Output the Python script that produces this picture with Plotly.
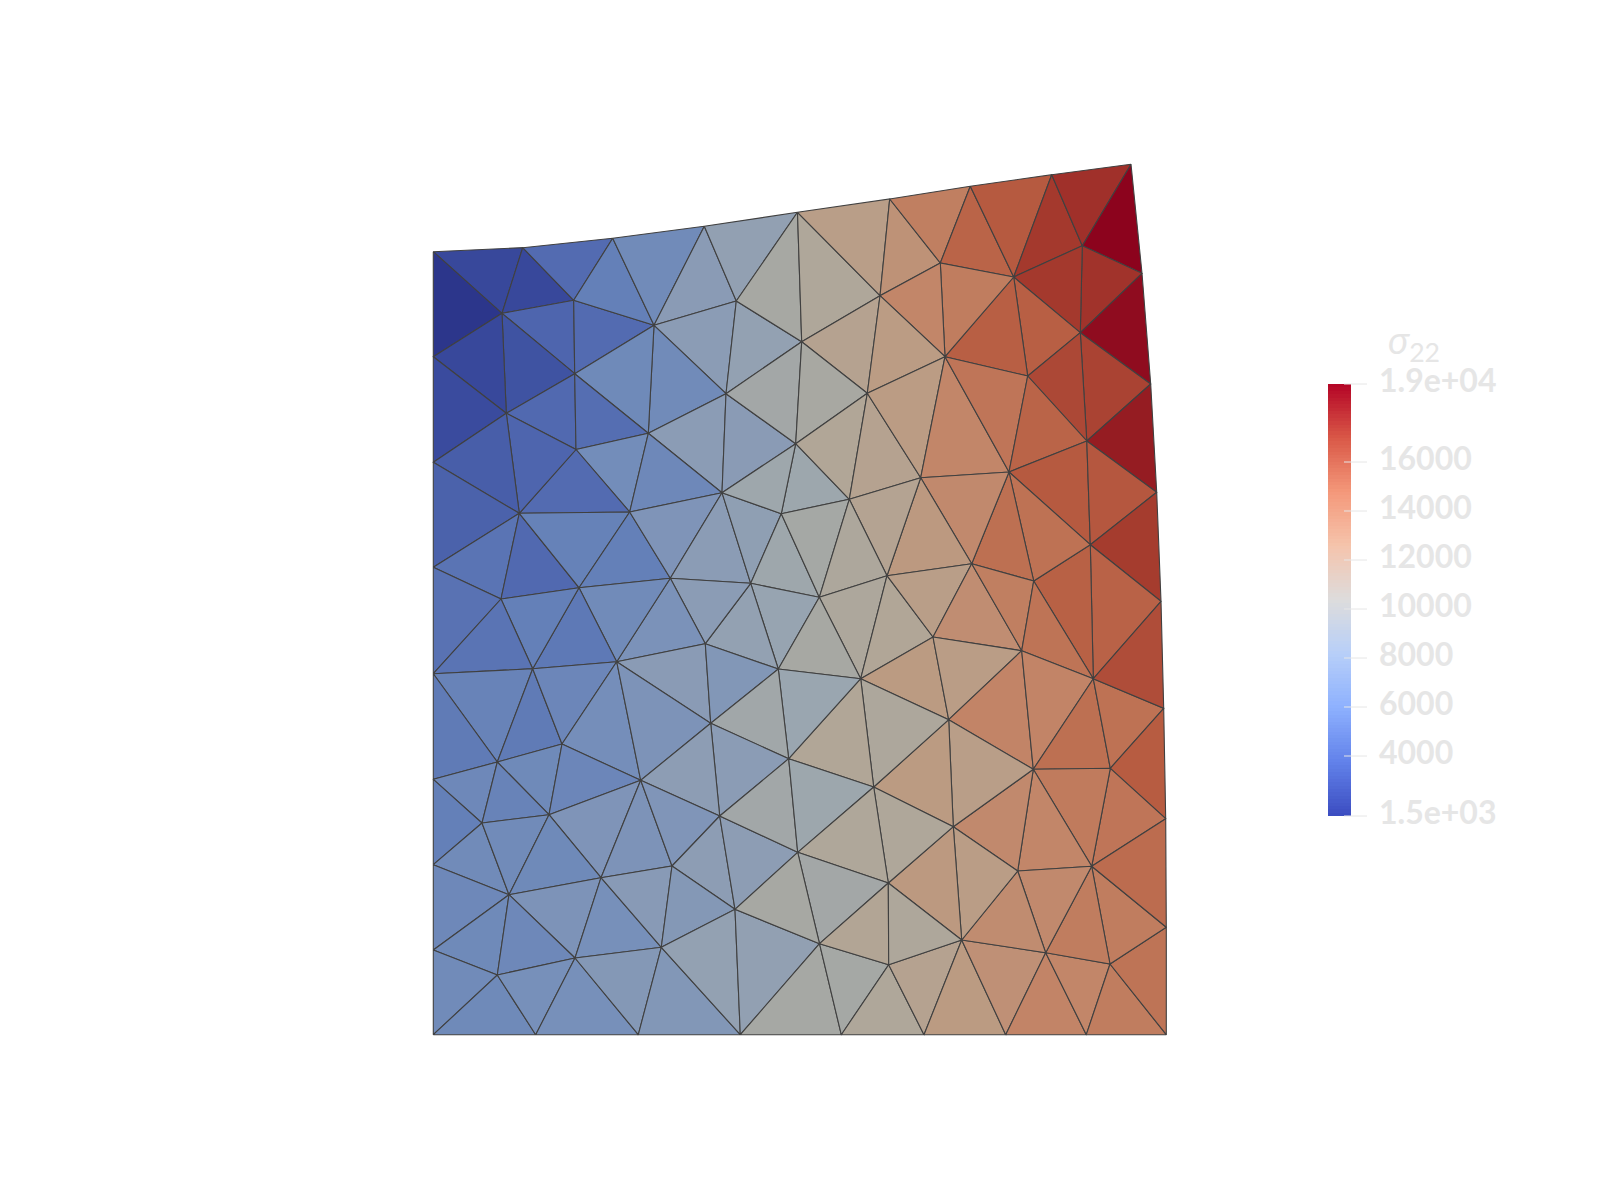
import numpy as np
import plotly.graph_objects as go
from plotly.colors import sample_colorscale

# mesh nodes (horizontal / vertical position on the page grid)
node_names = """T0 T1 T2 T3 T4 T5 T6 T7 T8 R1 R2 R3 R4 R5 R6 R7 R8
B1 B2 B3 B4 B5 B6 B7 L1 L2 L3 L4 L5 L6 L7 L8
a b c d e f g h i j k l m n o p q r s t u v w x y z
aa ab ac ad ae af ag ah ai aj ak al am an ao ap aq ar as at au av aw ax ay az
ba bb bc bd be bf bg bh bi bj bk bl bm bn bo bp bq br bs bt bu""".split()
node_x = [433.3, 522.7, 612.7, 704.3, 797.5, 889.7, 970.3, 1051.7, 1131, 1142, 1150.7, 1156.7, 1161, 1163.7, 1165.7, 1166.3, 1166.3,
          535.7, 638.3, 740.3, 841.3, 924, 1005.7, 1086.3, 433.3, 433.3, 433.3, 433.3, 433.3, 433.3, 433.3, 433.3,
          502, 573.7, 654, 736.3, 801.7, 880, 940.3, 1013.7, 1082.3, 506.3, 574.7, 726, 648.3, 576, 795.7, 867.3, 945, 1027.7, 1080.3, 1086.8, 519.3, 629.7, 722, 781.3, 849.3, 920.7,
          1009, 1090.3, 1033.7, 971.7, 887, 819.3, 750.7, 670.3, 579, 501, 532.7, 616.7, 705.3, 778.3, 860.7, 933, 1021.7, 1093.3, 948.7, 710.7, 562, 497.3, 640.7, 788.7, 873.7, 1033.3,
          1110.3, 549, 482, 719.7, 797.7, 953.3, 672, 601, 509, 735, 888.3, 1017.7, 1091.7, 819.5, 661.3, 575, 497.3, 888.7, 961.7, 1045.7, 1110]
node_y = [251.7, 247.7, 238.3, 226.3, 212.3, 199, 186.3, 174.7, 164.3, 273.3, 384, 492.3, 601.3, 708.3, 818.7, 927.3, 1034.7,
          1034.7, 1034.7, 1034.7, 1034.7, 1034.7, 1034.7, 1034.7, 356.7, 462.3, 567.3, 673.7, 779.3, 864.7, 950, 1034.7,
          313.3, 300.3, 325.3, 301, 341.7, 295.7, 263, 277, 245.7, 413.3, 373.7, 393.7, 433.3, 449.5, 443.7, 393.3, 356.7, 376, 332.7, 441, 513.3, 512, 492.7, 513.7, 499.3, 477.7,
          472, 544.7, 581, 563.7, 575.7, 597.3, 583.3, 578.3, 587.7, 599, 668.7, 661.7, 643.7, 669, 678.7, 637, 650.7, 678.7, 719.7, 723.3, 744, 762, 780.3, 758.7, 787, 769.3,
          768.3, 814.7, 823, 816, 852.3, 826.7, 866, 877.7, 894.7, 909.3, 883, 871, 866.3, 943.7, 947.3, 958, 975, 964.7, 940, 952.7, 964]

# triangles and the sigma_22 value estimated for each one
tri_sigma_pairs = """
T0 T1 a 2700;T0 a L1 1600;T1 b a 2700;T1 T2 b 4600;a b k 4300;b c k 4600;b T2 c 5500;T2 T3 c 6200;T3 d c 7500;T3 T4 d 8100;
c d l 7600;d e l 8200;d T4 e 9900;c l m 6200;c m k 6100;a k j 3300;a j L1 2700;L1 j L2 2900;j k n 4500;k m n 4700;
m l w 7600;l o w 7500;l e o 9500;n m v 6300;m w v 6000;n v u 4600;j n u 4300;j u L2 3900;L2 u L3 4100;L3 u aj 5000;
u aj ai 4500;u v ai 5600;v ah ai 5500;v w ah 6900;w ag ah 7600;w x ag 7900;x af ag 9100;o y x 9000;x y af 9700;w x o 9100;
T4 f e 10700;T4 T5 f 11800;e f p 11300;e p o 10000;o p y 10900;y p z 11300;f g T5 12700;T5 T6 g 13900;T6 h g 15400;T6 T7 h 16000;
T7 i h 17300;T7 T8 i 17600;T8 R1 i 19100;i R1 s 17500;i s h 17300;h s r 15700;h r q 15700;h q g 14000;g q f 13500;f q p 12000;
s R1 R2 18800;s R2 t 16900;s t r 16700;R2 R3 t 18300;p q z 12000;q aa z 13500;q r aa 14400;r t aa 15400;aa t ab 16000;t R3 ab 16100;
R3 R4 ab 17200;ab R4 ar 15500;ab ar ac 15600;aa ab ac 14600;aa ac ad 14700;z aa ad 13300;z ad ae 12200;y z ae 11200;y ae af 10500;af ae ao 10500;
ae ap ao 10900;ae ad ap 11800;ad aq ap 13000;ad ac aq 13900;ac ar aq 14500;ao ap as 12100;ap aq as 11900;as aq az 13600;aq ar az 13600;ar ba az 14700;
ar R5 ba 14600;R4 R5 ar 16500;R5 R6 ba 15900;ba R6 bm 14400;az ba bm 14100;az bm bl 13500;bf az bl 13300;as az bf 11800;ay as bf 12100;ao as ay 10500;
ax ao ay 10900;ag af an 8500;af ao an 9900;an ao ax 8700;ag an am 8200;ah ag am 7600;ah am al 6700;ai ah al 6200;ai al ak 5200;aj ai ak 5500;
L3 aj L4 4900;aj ak L4 5000;L4 ak av 5700;ak au av 5300;ak al au 5900;al aw au 6400;al am at 7500;al at aw 6800;am an at 7100;an ax at 9300;
at ax bd 7600;at bd aw 7700;L4 av L5 5300;av au bb 6100;au aw bb 5900;aw bh bb 6900;aw bg bh 6800;aw bd bg 7000;bd bj bg 7700;bd be bj 7700;
bd ax be 9400;L5 av bc 6000;av bb bc 5700;L5 bc L6 5500;L6 bc bi 6200;bc bb bi 6200;bb bh bi 6100;bi bh bp 6800;bh bo bp 6500;bh bg bo 7400;
bg bj bo 7200;L6 bi L7 6000;L7 bi bq 6100;bi bp bq 6000;L7 bq L8 6200;L8 bq B1 6100;bq bp B1 6500;B1 bp B2 6500;bp bo B2 7200;bo B3 B2 7100;
bo bj B3 8200;bj bn B3 8100;bn B3 B4 9800;bn br B4 9700;B4 br B5 10700;br bs B5 11300;B5 bs B6 12100;bs bt B6 12800;B6 bt B7 13600;bt bu B7 13500;
B7 bu R8 14000;bu R7 R8 14500;bm R7 bu 14000;bm R6 R7 14900;bm bu bt 14000;bl bm bt 13300;bl bt bs 13100;bf bl bs 11900;bf bs bk 12200;ay bf bk 10700;
ax ay be 9000;be ay bk 10700;be bn bk 9500;be bj bn 9900;bn bk br 11000;bk bs br 10600
"""
triangles = [t.split() for t in tri_sigma_pairs.replace("\n", "").split(";")]
tri_nodes = [t[:3] for t in triangles]
tri_sigma = [float(t[3]) for t in triangles]

# colour bar
sigma_min = 1551
sigma_max = 19184
bar_tick_vals = [sigma_min, 4000, 6000, 8000, 10000, 12000, 14000, 16000, sigma_max]
bar_tick_text = ["1.5e+03", "4000", "6000", "8000", "10000", "12000", "14000", "16000", "1.9e+04"]
coolwarm = [[0, "#3b4cc0"], [0.125, "#6282ea"], [0.25, "#8db0fe"], [0.375, "#b7cff9"], [0.5, "#dddcdc"],
            [0.625, "#f5c4ac"], [0.75, "#f4987a"], [0.875, "#d95847"], [1, "#b40426"]]
# the mesh is lit, so its faces are duller than the bar
lit_vals = [1550, 3000, 4500, 5500, 6500, 7500, 8700, 9800, 10800, 12000, 13500, 14800, 16000, 17300, 18300, 19180]
lit_cols = ["#2b358a", "#3b4d9f", "#5169b0", "#6480b8", "#7790ba", "#8a9bb5", "#9aa6b0", "#a6a8a4", "#b0a799",
            "#bb9c84", "#c28669", "#bd6e50", "#b65a40", "#a4392d", "#951c22", "#8b001c"]
lit_scale = [[(v - lit_vals[0]) / (lit_vals[-1] - lit_vals[0]), c] for v, c in zip(lit_vals, lit_cols)]

idx = {n: i for i, n in enumerate(node_names)}

fig = go.Figure()
for nodes, val in zip(tri_nodes, tri_sigma):
    ids = [idx[n] for n in nodes] + [idx[nodes[0]]]
    col = sample_colorscale(lit_scale, (val - lit_vals[0]) / (lit_vals[-1] - lit_vals[0]))[0]
    fig.add_trace(go.Scatter(x=[node_x[i] for i in ids], y=[node_y[i] for i in ids], mode="lines",
                             fill="toself", fillcolor=col, line=dict(color="#404040", width=1.1),
                             hoverinfo="skip", showlegend=False))

edges_y = np.linspace(sigma_min, sigma_max, 129)
ramp = (edges_y[:-1] + edges_y[1:]) / 2
fig.add_trace(go.Heatmap(z=[[v] for v in ramp], y=edges_y, x=[1328, 1351], xaxis="x2", yaxis="y2",
                         colorscale=coolwarm, zmin=sigma_min, zmax=sigma_max, showscale=False, hoverinfo="skip"))
tx, ty = [], []
for v in bar_tick_vals:
    tx += [1344, 1367, None]
    ty += [v, v, None]
fig.add_trace(go.Scatter(x=tx, y=ty, xaxis="x2", yaxis="y2", mode="lines",
                         line=dict(color="#e6e6e6", width=1), hoverinfo="skip", showlegend=False))
# an empty trace keeps the label axis alive; it sits 3 px above the bar axis
fig.add_trace(go.Scatter(x=[1367], y=[sigma_min], xaxis="x3", yaxis="y3", mode="lines",
                         hoverinfo="skip", showlegend=False))

# the page keeps its 8 px body margin, so the figure is 8 px in from each side
OFF = 8
W, H = 1600 - 2 * OFF, 1200 - 2 * OFF
px = lambda v: (v - OFF) / W
py = lambda v: 1 - (v - OFF) / H
per_px = (sigma_max - sigma_min) / (816 - 384)
pad = 5 * per_px
fig.update_layout(
    width=W, height=H, autosize=False, margin=dict(l=0, r=0, t=0, b=0),
    paper_bgcolor="white", plot_bgcolor="rgba(0,0,0,0)", showlegend=False,
    xaxis=dict(range=[OFF, 1600 - OFF], visible=False, domain=[0, 1], automargin=False),
    yaxis=dict(range=[1200 - OFF, OFF], visible=False, domain=[0, 1], automargin=False),
    xaxis2=dict(domain=[px(1328), px(1367)], range=[1328, 1367], visible=False, anchor="y2", automargin=False),
    yaxis2=dict(domain=[py(821), py(379)], range=[sigma_min - pad, sigma_max + pad], anchor="x2",
                visible=False, automargin=False),
    xaxis3=dict(domain=[px(1328), px(1367)], range=[1328, 1367], visible=False, anchor="y3", automargin=False),
    yaxis3=dict(domain=[py(818), py(376)], range=[sigma_min - pad, sigma_max + pad], anchor="x3", side="right",
                tickmode="array", tickvals=bar_tick_vals, ticktext=bar_tick_text, ticks="", automargin=False,
                showgrid=False, zeroline=False, showline=False, ticklabelstandoff=11,
                tickfont=dict(family="Lato", size=32, color="#e6e6e6", weight=700)),
    annotations=[dict(text="<i>σ</i><sub>22</sub>", xref="paper", yref="paper", x=px(1386), y=py(342),
                      xanchor="left", yanchor="middle", showarrow=False,
                      font=dict(family="Lato", size=38, color="#e6e6e6"))],
)
fig.write_html("out.html")
